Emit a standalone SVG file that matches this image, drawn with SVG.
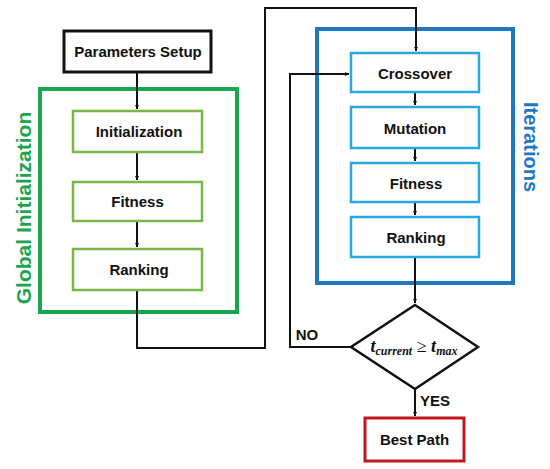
<svg xmlns="http://www.w3.org/2000/svg" width="550" height="469" viewBox="0 0 550 469">
<style>
.lbl{font-family:"Liberation Sans",Arial,sans-serif;font-weight:bold;font-size:15px;fill:#111;text-anchor:middle;dominant-baseline:central}
.g{fill:#fff;stroke:#7ab648;stroke-width:2.5}
.b{fill:#fff;stroke:#29a8e0;stroke-width:2.5}
.conn{fill:none;stroke:#111;stroke-width:2}
</style>
<defs>
<marker id="ah" viewBox="0 0 10 10" refX="10" refY="5" markerWidth="4" markerHeight="4" orient="auto" markerUnits="userSpaceOnUse">
<path d="M0,0 L10,5 L0,10 z" fill="#111"/>
</marker>
</defs>
<rect width="550" height="469" fill="#fff"/>

<g id="group-global">
<rect x="40" y="89" width="197" height="223" fill="none" stroke="#1aa54f" stroke-width="4"/>
<text transform="translate(31,208) rotate(-90)" font-family="'Liberation Sans',Arial,sans-serif" font-weight="bold" font-size="21" fill="#1aa54f" text-anchor="middle">Global Initialization</text>
</g>
<g id="group-iterations">
<rect x="317" y="29" width="196" height="254" fill="none" stroke="#1f77c0" stroke-width="4"/>
<text transform="translate(524,147) rotate(90)" font-family="'Liberation Sans',Arial,sans-serif" font-weight="bold" font-size="20" fill="#1f77c0" text-anchor="middle">Iterations</text>
</g>

<g id="connectors">
<path class="conn" d="M137,72 V109" marker-end="url(#ah)"/>
<path class="conn" d="M137,152 V180" marker-end="url(#ah)"/>
<path class="conn" d="M137,221 V247" marker-end="url(#ah)"/>
<path class="conn" d="M137,290 V348 H265 V8 H416 V51" marker-end="url(#ah)"/>
<path class="conn" d="M415,92 V105" marker-end="url(#ah)"/>
<path class="conn" d="M415,148 V161" marker-end="url(#ah)"/>
<path class="conn" d="M415,202 V215" marker-end="url(#ah)"/>
<path class="conn" d="M415,257 V303" marker-end="url(#ah)"/>
<path class="conn" d="M351,347 H290 V74 H349" marker-end="url(#ah)"/>
<path class="conn" d="M415,389 V416" marker-end="url(#ah)"/>
<text x="307" y="340" font-family="'Liberation Sans',Arial,sans-serif" font-weight="bold" font-size="15" fill="#111" text-anchor="middle">NO</text>
<text x="435" y="406" font-family="'Liberation Sans',Arial,sans-serif" font-weight="bold" font-size="15" fill="#111" text-anchor="middle">YES</text>
</g>

<g id="node-params">
<rect x="64" y="31" width="147" height="41" fill="#fff" stroke="#111" stroke-width="3"/>
<text class="lbl" x="138" y="51">Parameters Setup</text>
</g>
<g id="node-init">
<rect class="g" x="73" y="111" width="129" height="41"/>
<text class="lbl" x="139" y="131">Initialization</text>
</g>
<g id="node-fitness1">
<rect class="g" x="73" y="182" width="129" height="39"/>
<text class="lbl" x="137.5" y="201">Fitness</text>
</g>
<g id="node-ranking1">
<rect class="g" x="73" y="249" width="129" height="41"/>
<text class="lbl" x="139" y="269">Ranking</text>
</g>

<g id="node-crossover">
<rect class="b" x="351" y="53" width="128" height="39"/>
<text class="lbl" x="415" y="73">Crossover</text>
</g>
<g id="node-mutation">
<rect class="b" x="351" y="107" width="128" height="41"/>
<text class="lbl" x="415" y="128">Mutation</text>
</g>
<g id="node-fitness2">
<rect class="b" x="351" y="163" width="128" height="39"/>
<text class="lbl" x="416" y="183">Fitness</text>
</g>
<g id="node-ranking2">
<rect class="b" x="351" y="217" width="128" height="40"/>
<text class="lbl" x="416" y="237">Ranking</text>
</g>

<g id="node-decision">
<polygon points="415,305 478,347 415,389 351,347" fill="#fff" stroke="#111" stroke-width="2.5"/>
<text x="414" y="352" font-family="'Liberation Serif','Times New Roman',serif" font-style="italic" font-weight="bold" font-size="18" fill="#111" text-anchor="middle">t<tspan font-size="12" dy="3">current</tspan><tspan dy="-3" font-style="normal" font-weight="normal"> ≥ </tspan>t<tspan font-size="12" dy="3">max</tspan></text>
</g>

<g id="node-best">
<rect x="365" y="418" width="99" height="43" fill="#fff" stroke="#c0161d" stroke-width="3"/>
<text class="lbl" x="414.5" y="439.5">Best Path</text>
</g>
</svg>
